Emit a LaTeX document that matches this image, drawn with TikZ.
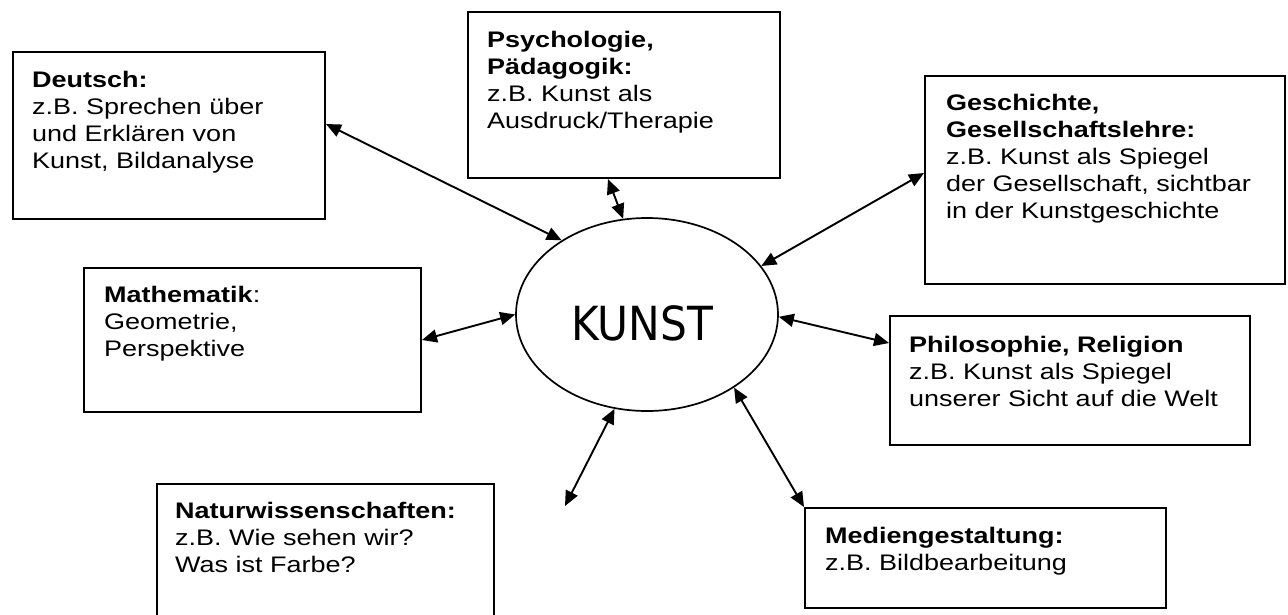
\documentclass[tikz,border=0pt]{standalone}
\usepackage{fontspec}
\setmainfont{Liberation Sans}[FakeStretch=1.2]
\newfontfamily\kunstfont{DejaVu Sans Condensed}
\usetikzlibrary{shapes.geometric,arrows.meta}
\tikzset{
  subj/.style={draw, line width=2pt, anchor=north west, inner sep=0pt},
  txt/.style={anchor=north west, inner sep=0pt, align=left, font=\fontsize{22.5}{27}\selectfont},
  conn/.style={{Triangle[length=15pt,width=13pt]}-{Triangle[length=15pt,width=13pt]}, line width=1.9pt},
}
\newcommand{\hd}[1]{\strut\textbf{#1}}
\begin{document}
\begin{tikzpicture}[x=1pt,y=-1pt]
\useasboundingbox (0,0) rectangle (1288,614);
\clip (0,0) rectangle (1288,614);
% boxes
\node[subj, minimum width=312pt, minimum height=167pt] (deu) at (12,51) {};
\node[subj, minimum width=312pt, minimum height=166pt] (psy) at (467,11) {};
\node[subj, minimum width=360pt, minimum height=208pt] (ges) at (924,75) {};
\node[subj, minimum width=337pt, minimum height=144pt] (mat) at (83,267) {};
\node[subj, minimum width=360pt, minimum height=129pt] (phi) at (889,315) {};
\node[subj, minimum width=337pt, minimum height=150pt] (nat) at (156,483) {};
\node[subj, minimum width=361pt, minimum height=100pt] (med) at (804,507) {};
% texts
\node[txt] (deut) at ([shift={(20,17)}]deu.north west) {\hd{Deutsch:}\\z.B. Sprechen über\\und Erklären von\\Kunst, Bildanalyse};
\node[txt] (psyt) at ([shift={(20,17)}]psy.north west) {\hd{Psychologie,}\\\textbf{Pädagogik:}\\z.B. Kunst als\\Ausdruck/Therapie};
\node[txt] (gest) at ([shift={(22,16)}]ges.north west) {\hd{Geschichte,}\\\textbf{Gesellschaftslehre:}\\z.B. Kunst als Spiegel\\der Gesellschaft, sichtbar\\in der Kunstgeschichte};
\node[txt] (matt) at ([shift={(21,16)}]mat.north west) {\strut\textbf{Mathematik}:\\Geometrie,\\Perspektive};
\node[txt] (phit) at ([shift={(20,18)}]phi.north west) {\hd{Philosophie, Religion}\\z.B. Kunst als Spiegel\\unserer Sicht auf die Welt};
\node[txt] (natt) at ([shift={(19,16)}]nat.north west) {\hd{Naturwissenschaften:}\\z.B. Wie sehen wir?\\Was ist Farbe?};
\node[txt] (medt) at ([shift={(21,17)}]med.north west) {\hd{Mediengestaltung:}\\z.B. Bildbearbeitung};
% centre
\node[draw, ellipse, line width=1.7pt, minimum width=262pt, minimum height=193pt, inner sep=0pt] (k) at (647,314.5) {};
\node[inner sep=0pt, font=\kunstfont\fontsize{47}{50}\selectfont] (kt) at (642,323) {KUNST};
\coordinate (free) at (565,506);
% connectors
\draw[conn] ([shift={(0,-11.5)}]deu.east) -- (k.139.9);
\draw[conn] ([shift={(-16,0)}]psy.south) -- (k.104.1);
\draw[conn] ([shift={(0,-7)}]ges.west) -- (k.23.2);
\draw[conn] (mat.east) -- (k.180.7);
\draw[conn] ([shift={(0,-37.5)}]phi.west) -- (k.-1.1);
\draw[conn] (med.north west) -- (k.-40);
\draw[conn] (free) -- (k.-109.6);
\end{tikzpicture}
\end{document}
